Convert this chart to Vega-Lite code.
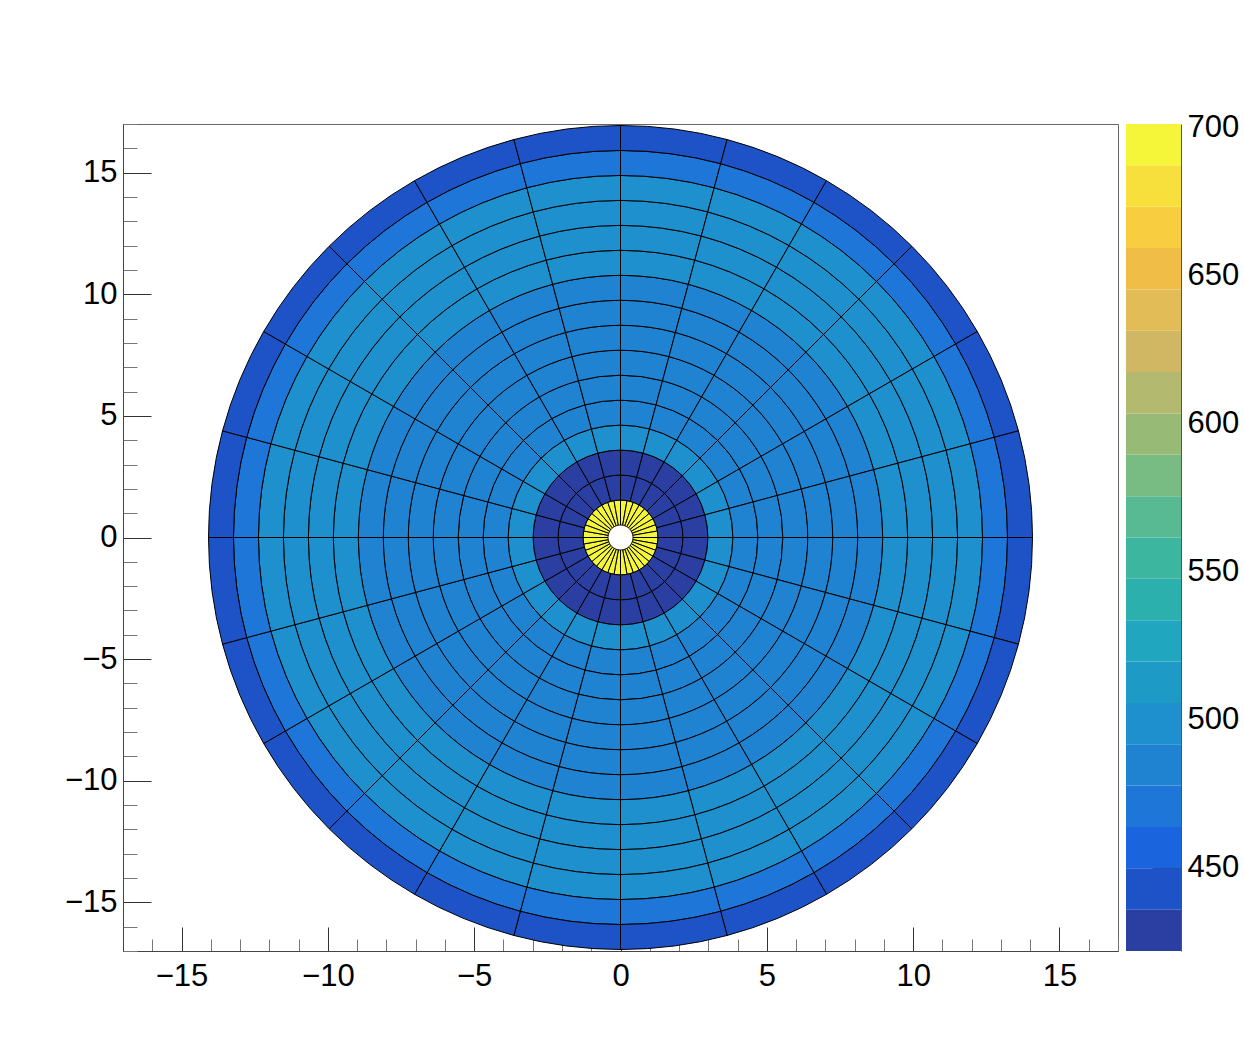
{
"$schema":"https://vega.github.io/schema/vega-lite/v6.json",
"background":"white",
"padding":{"left":63,"top":107,"right":0,"bottom":0},
"spacing":7,
"config":{"view":{"stroke":"#666","strokeWidth":1},"font":"Liberation Sans","axis":{"labelFont":"Liberation Sans","labelColor":"black","grid":false,"title":null}},
"datasets":{
"cells":[
{"r0":0.5,"r1":1.5,"p0":0,"p1":10,"v":695},{"r0":0.5,"r1":1.5,"p0":10,"p1":20,"v":695},{"r0":0.5,"r1":1.5,"p0":20,"p1":30,"v":695},{"r0":0.5,"r1":1.5,"p0":30,"p1":40,"v":695},{"r0":0.5,"r1":1.5,"p0":40,"p1":50,"v":695},{"r0":0.5,"r1":1.5,"p0":50,"p1":60,"v":695},{"r0":0.5,"r1":1.5,"p0":60,"p1":70,"v":695},{"r0":0.5,"r1":1.5,"p0":70,"p1":80,"v":695},{"r0":0.5,"r1":1.5,"p0":80,"p1":90,"v":695},{"r0":0.5,"r1":1.5,"p0":90,"p1":100,"v":695},{"r0":0.5,"r1":1.5,"p0":100,"p1":110,"v":695},{"r0":0.5,"r1":1.5,"p0":110,"p1":120,"v":695},{"r0":0.5,"r1":1.5,"p0":120,"p1":130,"v":695},{"r0":0.5,"r1":1.5,"p0":130,"p1":140,"v":695},{"r0":0.5,"r1":1.5,"p0":140,"p1":150,"v":695},{"r0":0.5,"r1":1.5,"p0":150,"p1":160,"v":695},{"r0":0.5,"r1":1.5,"p0":160,"p1":170,"v":695},{"r0":0.5,"r1":1.5,"p0":170,"p1":180,"v":695},{"r0":0.5,"r1":1.5,"p0":180,"p1":190,"v":695},{"r0":0.5,"r1":1.5,"p0":190,"p1":200,"v":695},{"r0":0.5,"r1":1.5,"p0":200,"p1":210,"v":695},{"r0":0.5,"r1":1.5,"p0":210,"p1":220,"v":695},{"r0":0.5,"r1":1.5,"p0":220,"p1":230,"v":695},{"r0":0.5,"r1":1.5,"p0":230,"p1":240,"v":695},{"r0":0.5,"r1":1.5,"p0":240,"p1":250,"v":695},{"r0":0.5,"r1":1.5,"p0":250,"p1":260,"v":695},{"r0":0.5,"r1":1.5,"p0":260,"p1":270,"v":695},{"r0":0.5,"r1":1.5,"p0":270,"p1":280,"v":695},{"r0":0.5,"r1":1.5,"p0":280,"p1":290,"v":695},{"r0":0.5,"r1":1.5,"p0":290,"p1":300,"v":695},{"r0":0.5,"r1":1.5,"p0":300,"p1":310,"v":695},{"r0":0.5,"r1":1.5,"p0":310,"p1":320,"v":695},{"r0":0.5,"r1":1.5,"p0":320,"p1":330,"v":695},{"r0":0.5,"r1":1.5,"p0":330,"p1":340,"v":695},{"r0":0.5,"r1":1.5,"p0":340,"p1":350,"v":695},{"r0":0.5,"r1":1.5,"p0":350,"p1":360,"v":695},
{"r0":1.5,"r1":2.5,"p0":0,"p1":15,"v":429},{"r0":1.5,"r1":2.5,"p0":15,"p1":30,"v":429},{"r0":1.5,"r1":2.5,"p0":30,"p1":45,"v":429},{"r0":1.5,"r1":2.5,"p0":45,"p1":60,"v":429},{"r0":1.5,"r1":2.5,"p0":60,"p1":75,"v":429},{"r0":1.5,"r1":2.5,"p0":75,"p1":90,"v":429},{"r0":1.5,"r1":2.5,"p0":90,"p1":105,"v":429},{"r0":1.5,"r1":2.5,"p0":105,"p1":120,"v":429},{"r0":1.5,"r1":2.5,"p0":120,"p1":135,"v":429},{"r0":1.5,"r1":2.5,"p0":135,"p1":150,"v":429},{"r0":1.5,"r1":2.5,"p0":150,"p1":165,"v":429},{"r0":1.5,"r1":2.5,"p0":165,"p1":180,"v":429},{"r0":1.5,"r1":2.5,"p0":180,"p1":195,"v":429},{"r0":1.5,"r1":2.5,"p0":195,"p1":210,"v":429},{"r0":1.5,"r1":2.5,"p0":210,"p1":225,"v":429},{"r0":1.5,"r1":2.5,"p0":225,"p1":240,"v":429},{"r0":1.5,"r1":2.5,"p0":240,"p1":255,"v":429},{"r0":1.5,"r1":2.5,"p0":255,"p1":270,"v":429},{"r0":1.5,"r1":2.5,"p0":270,"p1":285,"v":429},{"r0":1.5,"r1":2.5,"p0":285,"p1":300,"v":429},{"r0":1.5,"r1":2.5,"p0":300,"p1":315,"v":429},{"r0":1.5,"r1":2.5,"p0":315,"p1":330,"v":429},{"r0":1.5,"r1":2.5,"p0":330,"p1":345,"v":429},{"r0":1.5,"r1":2.5,"p0":345,"p1":360,"v":429},
{"r0":2.5,"r1":3.5,"p0":0,"p1":15,"v":429},{"r0":2.5,"r1":3.5,"p0":15,"p1":30,"v":429},{"r0":2.5,"r1":3.5,"p0":30,"p1":45,"v":429},{"r0":2.5,"r1":3.5,"p0":45,"p1":60,"v":429},{"r0":2.5,"r1":3.5,"p0":60,"p1":75,"v":429},{"r0":2.5,"r1":3.5,"p0":75,"p1":90,"v":429},{"r0":2.5,"r1":3.5,"p0":90,"p1":105,"v":429},{"r0":2.5,"r1":3.5,"p0":105,"p1":120,"v":429},{"r0":2.5,"r1":3.5,"p0":120,"p1":135,"v":429},{"r0":2.5,"r1":3.5,"p0":135,"p1":150,"v":429},{"r0":2.5,"r1":3.5,"p0":150,"p1":165,"v":429},{"r0":2.5,"r1":3.5,"p0":165,"p1":180,"v":429},{"r0":2.5,"r1":3.5,"p0":180,"p1":195,"v":429},{"r0":2.5,"r1":3.5,"p0":195,"p1":210,"v":429},{"r0":2.5,"r1":3.5,"p0":210,"p1":225,"v":429},{"r0":2.5,"r1":3.5,"p0":225,"p1":240,"v":429},{"r0":2.5,"r1":3.5,"p0":240,"p1":255,"v":429},{"r0":2.5,"r1":3.5,"p0":255,"p1":270,"v":429},{"r0":2.5,"r1":3.5,"p0":270,"p1":285,"v":429},{"r0":2.5,"r1":3.5,"p0":285,"p1":300,"v":429},{"r0":2.5,"r1":3.5,"p0":300,"p1":315,"v":429},{"r0":2.5,"r1":3.5,"p0":315,"p1":330,"v":429},{"r0":2.5,"r1":3.5,"p0":330,"p1":345,"v":429},{"r0":2.5,"r1":3.5,"p0":345,"p1":360,"v":429},
{"r0":3.5,"r1":4.5,"p0":0,"p1":15,"v":499},{"r0":3.5,"r1":4.5,"p0":15,"p1":30,"v":499},{"r0":3.5,"r1":4.5,"p0":30,"p1":45,"v":499},{"r0":3.5,"r1":4.5,"p0":45,"p1":60,"v":499},{"r0":3.5,"r1":4.5,"p0":60,"p1":75,"v":499},{"r0":3.5,"r1":4.5,"p0":75,"p1":90,"v":499},{"r0":3.5,"r1":4.5,"p0":90,"p1":105,"v":499},{"r0":3.5,"r1":4.5,"p0":105,"p1":120,"v":499},{"r0":3.5,"r1":4.5,"p0":120,"p1":135,"v":499},{"r0":3.5,"r1":4.5,"p0":135,"p1":150,"v":499},{"r0":3.5,"r1":4.5,"p0":150,"p1":165,"v":499},{"r0":3.5,"r1":4.5,"p0":165,"p1":180,"v":499},{"r0":3.5,"r1":4.5,"p0":180,"p1":195,"v":499},{"r0":3.5,"r1":4.5,"p0":195,"p1":210,"v":499},{"r0":3.5,"r1":4.5,"p0":210,"p1":225,"v":499},{"r0":3.5,"r1":4.5,"p0":225,"p1":240,"v":499},{"r0":3.5,"r1":4.5,"p0":240,"p1":255,"v":499},{"r0":3.5,"r1":4.5,"p0":255,"p1":270,"v":499},{"r0":3.5,"r1":4.5,"p0":270,"p1":285,"v":499},{"r0":3.5,"r1":4.5,"p0":285,"p1":300,"v":499},{"r0":3.5,"r1":4.5,"p0":300,"p1":315,"v":499},{"r0":3.5,"r1":4.5,"p0":315,"p1":330,"v":499},{"r0":3.5,"r1":4.5,"p0":330,"p1":345,"v":499},{"r0":3.5,"r1":4.5,"p0":345,"p1":360,"v":499},
{"r0":4.5,"r1":5.5,"p0":0,"p1":15,"v":485},{"r0":4.5,"r1":5.5,"p0":15,"p1":30,"v":485},{"r0":4.5,"r1":5.5,"p0":30,"p1":45,"v":485},{"r0":4.5,"r1":5.5,"p0":45,"p1":60,"v":485},{"r0":4.5,"r1":5.5,"p0":60,"p1":75,"v":485},{"r0":4.5,"r1":5.5,"p0":75,"p1":90,"v":485},{"r0":4.5,"r1":5.5,"p0":90,"p1":105,"v":485},{"r0":4.5,"r1":5.5,"p0":105,"p1":120,"v":485},{"r0":4.5,"r1":5.5,"p0":120,"p1":135,"v":485},{"r0":4.5,"r1":5.5,"p0":135,"p1":150,"v":485},{"r0":4.5,"r1":5.5,"p0":150,"p1":165,"v":485},{"r0":4.5,"r1":5.5,"p0":165,"p1":180,"v":485},{"r0":4.5,"r1":5.5,"p0":180,"p1":195,"v":485},{"r0":4.5,"r1":5.5,"p0":195,"p1":210,"v":485},{"r0":4.5,"r1":5.5,"p0":210,"p1":225,"v":485},{"r0":4.5,"r1":5.5,"p0":225,"p1":240,"v":485},{"r0":4.5,"r1":5.5,"p0":240,"p1":255,"v":485},{"r0":4.5,"r1":5.5,"p0":255,"p1":270,"v":485},{"r0":4.5,"r1":5.5,"p0":270,"p1":285,"v":485},{"r0":4.5,"r1":5.5,"p0":285,"p1":300,"v":485},{"r0":4.5,"r1":5.5,"p0":300,"p1":315,"v":485},{"r0":4.5,"r1":5.5,"p0":315,"p1":330,"v":485},{"r0":4.5,"r1":5.5,"p0":330,"p1":345,"v":485},{"r0":4.5,"r1":5.5,"p0":345,"p1":360,"v":485},
{"r0":5.5,"r1":6.5,"p0":0,"p1":15,"v":485},{"r0":5.5,"r1":6.5,"p0":15,"p1":30,"v":485},{"r0":5.5,"r1":6.5,"p0":30,"p1":45,"v":485},{"r0":5.5,"r1":6.5,"p0":45,"p1":60,"v":485},{"r0":5.5,"r1":6.5,"p0":60,"p1":75,"v":485},{"r0":5.5,"r1":6.5,"p0":75,"p1":90,"v":485},{"r0":5.5,"r1":6.5,"p0":90,"p1":105,"v":485},{"r0":5.5,"r1":6.5,"p0":105,"p1":120,"v":485},{"r0":5.5,"r1":6.5,"p0":120,"p1":135,"v":485},{"r0":5.5,"r1":6.5,"p0":135,"p1":150,"v":485},{"r0":5.5,"r1":6.5,"p0":150,"p1":165,"v":485},{"r0":5.5,"r1":6.5,"p0":165,"p1":180,"v":485},{"r0":5.5,"r1":6.5,"p0":180,"p1":195,"v":485},{"r0":5.5,"r1":6.5,"p0":195,"p1":210,"v":485},{"r0":5.5,"r1":6.5,"p0":210,"p1":225,"v":485},{"r0":5.5,"r1":6.5,"p0":225,"p1":240,"v":485},{"r0":5.5,"r1":6.5,"p0":240,"p1":255,"v":485},{"r0":5.5,"r1":6.5,"p0":255,"p1":270,"v":485},{"r0":5.5,"r1":6.5,"p0":270,"p1":285,"v":485},{"r0":5.5,"r1":6.5,"p0":285,"p1":300,"v":485},{"r0":5.5,"r1":6.5,"p0":300,"p1":315,"v":485},{"r0":5.5,"r1":6.5,"p0":315,"p1":330,"v":485},{"r0":5.5,"r1":6.5,"p0":330,"p1":345,"v":485},{"r0":5.5,"r1":6.5,"p0":345,"p1":360,"v":485},
{"r0":6.5,"r1":7.5,"p0":0,"p1":15,"v":485},{"r0":6.5,"r1":7.5,"p0":15,"p1":30,"v":485},{"r0":6.5,"r1":7.5,"p0":30,"p1":45,"v":485},{"r0":6.5,"r1":7.5,"p0":45,"p1":60,"v":485},{"r0":6.5,"r1":7.5,"p0":60,"p1":75,"v":485},{"r0":6.5,"r1":7.5,"p0":75,"p1":90,"v":485},{"r0":6.5,"r1":7.5,"p0":90,"p1":105,"v":485},{"r0":6.5,"r1":7.5,"p0":105,"p1":120,"v":485},{"r0":6.5,"r1":7.5,"p0":120,"p1":135,"v":485},{"r0":6.5,"r1":7.5,"p0":135,"p1":150,"v":485},{"r0":6.5,"r1":7.5,"p0":150,"p1":165,"v":485},{"r0":6.5,"r1":7.5,"p0":165,"p1":180,"v":485},{"r0":6.5,"r1":7.5,"p0":180,"p1":195,"v":485},{"r0":6.5,"r1":7.5,"p0":195,"p1":210,"v":485},{"r0":6.5,"r1":7.5,"p0":210,"p1":225,"v":485},{"r0":6.5,"r1":7.5,"p0":225,"p1":240,"v":485},{"r0":6.5,"r1":7.5,"p0":240,"p1":255,"v":485},{"r0":6.5,"r1":7.5,"p0":255,"p1":270,"v":485},{"r0":6.5,"r1":7.5,"p0":270,"p1":285,"v":485},{"r0":6.5,"r1":7.5,"p0":285,"p1":300,"v":485},{"r0":6.5,"r1":7.5,"p0":300,"p1":315,"v":485},{"r0":6.5,"r1":7.5,"p0":315,"p1":330,"v":485},{"r0":6.5,"r1":7.5,"p0":330,"p1":345,"v":485},{"r0":6.5,"r1":7.5,"p0":345,"p1":360,"v":485},
{"r0":7.5,"r1":8.5,"p0":0,"p1":15,"v":485},{"r0":7.5,"r1":8.5,"p0":15,"p1":30,"v":485},{"r0":7.5,"r1":8.5,"p0":30,"p1":45,"v":485},{"r0":7.5,"r1":8.5,"p0":45,"p1":60,"v":485},{"r0":7.5,"r1":8.5,"p0":60,"p1":75,"v":485},{"r0":7.5,"r1":8.5,"p0":75,"p1":90,"v":485},{"r0":7.5,"r1":8.5,"p0":90,"p1":105,"v":485},{"r0":7.5,"r1":8.5,"p0":105,"p1":120,"v":485},{"r0":7.5,"r1":8.5,"p0":120,"p1":135,"v":485},{"r0":7.5,"r1":8.5,"p0":135,"p1":150,"v":485},{"r0":7.5,"r1":8.5,"p0":150,"p1":165,"v":485},{"r0":7.5,"r1":8.5,"p0":165,"p1":180,"v":485},{"r0":7.5,"r1":8.5,"p0":180,"p1":195,"v":485},{"r0":7.5,"r1":8.5,"p0":195,"p1":210,"v":485},{"r0":7.5,"r1":8.5,"p0":210,"p1":225,"v":485},{"r0":7.5,"r1":8.5,"p0":225,"p1":240,"v":485},{"r0":7.5,"r1":8.5,"p0":240,"p1":255,"v":485},{"r0":7.5,"r1":8.5,"p0":255,"p1":270,"v":485},{"r0":7.5,"r1":8.5,"p0":270,"p1":285,"v":485},{"r0":7.5,"r1":8.5,"p0":285,"p1":300,"v":485},{"r0":7.5,"r1":8.5,"p0":300,"p1":315,"v":485},{"r0":7.5,"r1":8.5,"p0":315,"p1":330,"v":485},{"r0":7.5,"r1":8.5,"p0":330,"p1":345,"v":485},{"r0":7.5,"r1":8.5,"p0":345,"p1":360,"v":485},
{"r0":8.5,"r1":9.5,"p0":0,"p1":15,"v":485},{"r0":8.5,"r1":9.5,"p0":15,"p1":30,"v":485},{"r0":8.5,"r1":9.5,"p0":30,"p1":45,"v":485},{"r0":8.5,"r1":9.5,"p0":45,"p1":60,"v":485},{"r0":8.5,"r1":9.5,"p0":60,"p1":75,"v":485},{"r0":8.5,"r1":9.5,"p0":75,"p1":90,"v":485},{"r0":8.5,"r1":9.5,"p0":90,"p1":105,"v":485},{"r0":8.5,"r1":9.5,"p0":105,"p1":120,"v":485},{"r0":8.5,"r1":9.5,"p0":120,"p1":135,"v":485},{"r0":8.5,"r1":9.5,"p0":135,"p1":150,"v":485},{"r0":8.5,"r1":9.5,"p0":150,"p1":165,"v":485},{"r0":8.5,"r1":9.5,"p0":165,"p1":180,"v":485},{"r0":8.5,"r1":9.5,"p0":180,"p1":195,"v":485},{"r0":8.5,"r1":9.5,"p0":195,"p1":210,"v":485},{"r0":8.5,"r1":9.5,"p0":210,"p1":225,"v":485},{"r0":8.5,"r1":9.5,"p0":225,"p1":240,"v":485},{"r0":8.5,"r1":9.5,"p0":240,"p1":255,"v":485},{"r0":8.5,"r1":9.5,"p0":255,"p1":270,"v":485},{"r0":8.5,"r1":9.5,"p0":270,"p1":285,"v":485},{"r0":8.5,"r1":9.5,"p0":285,"p1":300,"v":485},{"r0":8.5,"r1":9.5,"p0":300,"p1":315,"v":485},{"r0":8.5,"r1":9.5,"p0":315,"p1":330,"v":485},{"r0":8.5,"r1":9.5,"p0":330,"p1":345,"v":485},{"r0":8.5,"r1":9.5,"p0":345,"p1":360,"v":485},
{"r0":9.5,"r1":10.5,"p0":0,"p1":15,"v":486},{"r0":9.5,"r1":10.5,"p0":15,"p1":30,"v":486},{"r0":9.5,"r1":10.5,"p0":30,"p1":45,"v":486},{"r0":9.5,"r1":10.5,"p0":45,"p1":60,"v":486},{"r0":9.5,"r1":10.5,"p0":60,"p1":75,"v":486},{"r0":9.5,"r1":10.5,"p0":75,"p1":90,"v":486},{"r0":9.5,"r1":10.5,"p0":90,"p1":105,"v":486},{"r0":9.5,"r1":10.5,"p0":105,"p1":120,"v":486},{"r0":9.5,"r1":10.5,"p0":120,"p1":135,"v":486},{"r0":9.5,"r1":10.5,"p0":135,"p1":150,"v":486},{"r0":9.5,"r1":10.5,"p0":150,"p1":165,"v":486},{"r0":9.5,"r1":10.5,"p0":165,"p1":180,"v":486},{"r0":9.5,"r1":10.5,"p0":180,"p1":195,"v":486},{"r0":9.5,"r1":10.5,"p0":195,"p1":210,"v":486},{"r0":9.5,"r1":10.5,"p0":210,"p1":225,"v":486},{"r0":9.5,"r1":10.5,"p0":225,"p1":240,"v":486},{"r0":9.5,"r1":10.5,"p0":240,"p1":255,"v":486},{"r0":9.5,"r1":10.5,"p0":255,"p1":270,"v":486},{"r0":9.5,"r1":10.5,"p0":270,"p1":285,"v":486},{"r0":9.5,"r1":10.5,"p0":285,"p1":300,"v":486},{"r0":9.5,"r1":10.5,"p0":300,"p1":315,"v":486},{"r0":9.5,"r1":10.5,"p0":315,"p1":330,"v":486},{"r0":9.5,"r1":10.5,"p0":330,"p1":345,"v":486},{"r0":9.5,"r1":10.5,"p0":345,"p1":360,"v":486},
{"r0":10.5,"r1":11.5,"p0":0,"p1":15,"v":497},{"r0":10.5,"r1":11.5,"p0":15,"p1":30,"v":497},{"r0":10.5,"r1":11.5,"p0":30,"p1":45,"v":497},{"r0":10.5,"r1":11.5,"p0":45,"p1":60,"v":497},{"r0":10.5,"r1":11.5,"p0":60,"p1":75,"v":497},{"r0":10.5,"r1":11.5,"p0":75,"p1":90,"v":497},{"r0":10.5,"r1":11.5,"p0":90,"p1":105,"v":497},{"r0":10.5,"r1":11.5,"p0":105,"p1":120,"v":497},{"r0":10.5,"r1":11.5,"p0":120,"p1":135,"v":497},{"r0":10.5,"r1":11.5,"p0":135,"p1":150,"v":497},{"r0":10.5,"r1":11.5,"p0":150,"p1":165,"v":497},{"r0":10.5,"r1":11.5,"p0":165,"p1":180,"v":497},{"r0":10.5,"r1":11.5,"p0":180,"p1":195,"v":497},{"r0":10.5,"r1":11.5,"p0":195,"p1":210,"v":497},{"r0":10.5,"r1":11.5,"p0":210,"p1":225,"v":497},{"r0":10.5,"r1":11.5,"p0":225,"p1":240,"v":497},{"r0":10.5,"r1":11.5,"p0":240,"p1":255,"v":497},{"r0":10.5,"r1":11.5,"p0":255,"p1":270,"v":497},{"r0":10.5,"r1":11.5,"p0":270,"p1":285,"v":497},{"r0":10.5,"r1":11.5,"p0":285,"p1":300,"v":497},{"r0":10.5,"r1":11.5,"p0":300,"p1":315,"v":497},{"r0":10.5,"r1":11.5,"p0":315,"p1":330,"v":497},{"r0":10.5,"r1":11.5,"p0":330,"p1":345,"v":497},{"r0":10.5,"r1":11.5,"p0":345,"p1":360,"v":497},
{"r0":11.5,"r1":12.5,"p0":0,"p1":15,"v":498},{"r0":11.5,"r1":12.5,"p0":15,"p1":30,"v":498},{"r0":11.5,"r1":12.5,"p0":30,"p1":45,"v":498},{"r0":11.5,"r1":12.5,"p0":45,"p1":60,"v":498},{"r0":11.5,"r1":12.5,"p0":60,"p1":75,"v":498},{"r0":11.5,"r1":12.5,"p0":75,"p1":90,"v":498},{"r0":11.5,"r1":12.5,"p0":90,"p1":105,"v":498},{"r0":11.5,"r1":12.5,"p0":105,"p1":120,"v":498},{"r0":11.5,"r1":12.5,"p0":120,"p1":135,"v":498},{"r0":11.5,"r1":12.5,"p0":135,"p1":150,"v":498},{"r0":11.5,"r1":12.5,"p0":150,"p1":165,"v":498},{"r0":11.5,"r1":12.5,"p0":165,"p1":180,"v":498},{"r0":11.5,"r1":12.5,"p0":180,"p1":195,"v":498},{"r0":11.5,"r1":12.5,"p0":195,"p1":210,"v":498},{"r0":11.5,"r1":12.5,"p0":210,"p1":225,"v":498},{"r0":11.5,"r1":12.5,"p0":225,"p1":240,"v":498},{"r0":11.5,"r1":12.5,"p0":240,"p1":255,"v":498},{"r0":11.5,"r1":12.5,"p0":255,"p1":270,"v":498},{"r0":11.5,"r1":12.5,"p0":270,"p1":285,"v":498},{"r0":11.5,"r1":12.5,"p0":285,"p1":300,"v":498},{"r0":11.5,"r1":12.5,"p0":300,"p1":315,"v":498},{"r0":11.5,"r1":12.5,"p0":315,"p1":330,"v":498},{"r0":11.5,"r1":12.5,"p0":330,"p1":345,"v":498},{"r0":11.5,"r1":12.5,"p0":345,"p1":360,"v":498},
{"r0":12.5,"r1":13.5,"p0":0,"p1":15,"v":498},{"r0":12.5,"r1":13.5,"p0":15,"p1":30,"v":498},{"r0":12.5,"r1":13.5,"p0":30,"p1":45,"v":498},{"r0":12.5,"r1":13.5,"p0":45,"p1":60,"v":498},{"r0":12.5,"r1":13.5,"p0":60,"p1":75,"v":498},{"r0":12.5,"r1":13.5,"p0":75,"p1":90,"v":498},{"r0":12.5,"r1":13.5,"p0":90,"p1":105,"v":498},{"r0":12.5,"r1":13.5,"p0":105,"p1":120,"v":498},{"r0":12.5,"r1":13.5,"p0":120,"p1":135,"v":498},{"r0":12.5,"r1":13.5,"p0":135,"p1":150,"v":498},{"r0":12.5,"r1":13.5,"p0":150,"p1":165,"v":498},{"r0":12.5,"r1":13.5,"p0":165,"p1":180,"v":498},{"r0":12.5,"r1":13.5,"p0":180,"p1":195,"v":498},{"r0":12.5,"r1":13.5,"p0":195,"p1":210,"v":498},{"r0":12.5,"r1":13.5,"p0":210,"p1":225,"v":498},{"r0":12.5,"r1":13.5,"p0":225,"p1":240,"v":498},{"r0":12.5,"r1":13.5,"p0":240,"p1":255,"v":498},{"r0":12.5,"r1":13.5,"p0":255,"p1":270,"v":498},{"r0":12.5,"r1":13.5,"p0":270,"p1":285,"v":498},{"r0":12.5,"r1":13.5,"p0":285,"p1":300,"v":498},{"r0":12.5,"r1":13.5,"p0":300,"p1":315,"v":498},{"r0":12.5,"r1":13.5,"p0":315,"p1":330,"v":498},{"r0":12.5,"r1":13.5,"p0":330,"p1":345,"v":498},{"r0":12.5,"r1":13.5,"p0":345,"p1":360,"v":498},
{"r0":13.5,"r1":14.5,"p0":0,"p1":15,"v":497},{"r0":13.5,"r1":14.5,"p0":15,"p1":30,"v":497},{"r0":13.5,"r1":14.5,"p0":30,"p1":45,"v":497},{"r0":13.5,"r1":14.5,"p0":45,"p1":60,"v":497},{"r0":13.5,"r1":14.5,"p0":60,"p1":75,"v":497},{"r0":13.5,"r1":14.5,"p0":75,"p1":90,"v":497},{"r0":13.5,"r1":14.5,"p0":90,"p1":105,"v":497},{"r0":13.5,"r1":14.5,"p0":105,"p1":120,"v":497},{"r0":13.5,"r1":14.5,"p0":120,"p1":135,"v":497},{"r0":13.5,"r1":14.5,"p0":135,"p1":150,"v":497},{"r0":13.5,"r1":14.5,"p0":150,"p1":165,"v":497},{"r0":13.5,"r1":14.5,"p0":165,"p1":180,"v":497},{"r0":13.5,"r1":14.5,"p0":180,"p1":195,"v":497},{"r0":13.5,"r1":14.5,"p0":195,"p1":210,"v":497},{"r0":13.5,"r1":14.5,"p0":210,"p1":225,"v":497},{"r0":13.5,"r1":14.5,"p0":225,"p1":240,"v":497},{"r0":13.5,"r1":14.5,"p0":240,"p1":255,"v":497},{"r0":13.5,"r1":14.5,"p0":255,"p1":270,"v":497},{"r0":13.5,"r1":14.5,"p0":270,"p1":285,"v":497},{"r0":13.5,"r1":14.5,"p0":285,"p1":300,"v":497},{"r0":13.5,"r1":14.5,"p0":300,"p1":315,"v":497},{"r0":13.5,"r1":14.5,"p0":315,"p1":330,"v":497},{"r0":13.5,"r1":14.5,"p0":330,"p1":345,"v":497},{"r0":13.5,"r1":14.5,"p0":345,"p1":360,"v":497},
{"r0":14.5,"r1":15.5,"p0":0,"p1":15,"v":471},{"r0":14.5,"r1":15.5,"p0":15,"p1":30,"v":471},{"r0":14.5,"r1":15.5,"p0":30,"p1":45,"v":471},{"r0":14.5,"r1":15.5,"p0":45,"p1":60,"v":471},{"r0":14.5,"r1":15.5,"p0":60,"p1":75,"v":471},{"r0":14.5,"r1":15.5,"p0":75,"p1":90,"v":471},{"r0":14.5,"r1":15.5,"p0":90,"p1":105,"v":471},{"r0":14.5,"r1":15.5,"p0":105,"p1":120,"v":471},{"r0":14.5,"r1":15.5,"p0":120,"p1":135,"v":471},{"r0":14.5,"r1":15.5,"p0":135,"p1":150,"v":471},{"r0":14.5,"r1":15.5,"p0":150,"p1":165,"v":471},{"r0":14.5,"r1":15.5,"p0":165,"p1":180,"v":471},{"r0":14.5,"r1":15.5,"p0":180,"p1":195,"v":471},{"r0":14.5,"r1":15.5,"p0":195,"p1":210,"v":471},{"r0":14.5,"r1":15.5,"p0":210,"p1":225,"v":471},{"r0":14.5,"r1":15.5,"p0":225,"p1":240,"v":471},{"r0":14.5,"r1":15.5,"p0":240,"p1":255,"v":471},{"r0":14.5,"r1":15.5,"p0":255,"p1":270,"v":471},{"r0":14.5,"r1":15.5,"p0":270,"p1":285,"v":471},{"r0":14.5,"r1":15.5,"p0":285,"p1":300,"v":471},{"r0":14.5,"r1":15.5,"p0":300,"p1":315,"v":471},{"r0":14.5,"r1":15.5,"p0":315,"p1":330,"v":471},{"r0":14.5,"r1":15.5,"p0":330,"p1":345,"v":471},{"r0":14.5,"r1":15.5,"p0":345,"p1":360,"v":471},
{"r0":15.5,"r1":16.5,"p0":0,"p1":15,"v":443},{"r0":15.5,"r1":16.5,"p0":15,"p1":30,"v":443},{"r0":15.5,"r1":16.5,"p0":30,"p1":45,"v":443},{"r0":15.5,"r1":16.5,"p0":45,"p1":60,"v":443},{"r0":15.5,"r1":16.5,"p0":60,"p1":75,"v":443},{"r0":15.5,"r1":16.5,"p0":75,"p1":90,"v":443},{"r0":15.5,"r1":16.5,"p0":90,"p1":105,"v":443},{"r0":15.5,"r1":16.5,"p0":105,"p1":120,"v":443},{"r0":15.5,"r1":16.5,"p0":120,"p1":135,"v":443},{"r0":15.5,"r1":16.5,"p0":135,"p1":150,"v":443},{"r0":15.5,"r1":16.5,"p0":150,"p1":165,"v":443},{"r0":15.5,"r1":16.5,"p0":165,"p1":180,"v":443},{"r0":15.5,"r1":16.5,"p0":180,"p1":195,"v":443},{"r0":15.5,"r1":16.5,"p0":195,"p1":210,"v":443},{"r0":15.5,"r1":16.5,"p0":210,"p1":225,"v":443},{"r0":15.5,"r1":16.5,"p0":225,"p1":240,"v":443},{"r0":15.5,"r1":16.5,"p0":240,"p1":255,"v":443},{"r0":15.5,"r1":16.5,"p0":255,"p1":270,"v":443},{"r0":15.5,"r1":16.5,"p0":270,"p1":285,"v":443},{"r0":15.5,"r1":16.5,"p0":285,"p1":300,"v":443},{"r0":15.5,"r1":16.5,"p0":300,"p1":315,"v":443},{"r0":15.5,"r1":16.5,"p0":315,"p1":330,"v":443},{"r0":15.5,"r1":16.5,"p0":330,"p1":345,"v":443},{"r0":15.5,"r1":16.5,"p0":345,"p1":360,"v":443}
],
"bands":[
{"lo":421.8,"hi":435.77,"v":428.8},{"lo":435.77,"hi":449.73,"v":442.75},{"lo":449.73,"hi":463.7,"v":456.7},{"lo":463.7,"hi":477.66,"v":470.7},{"lo":477.66,"hi":491.63,"v":484.6},{"lo":491.63,"hi":505.59,"v":498.6},{"lo":505.59,"hi":519.56,"v":512.6},{"lo":519.56,"hi":533.52,"v":526.5},{"lo":533.52,"hi":547.49,"v":540.5},{"lo":547.49,"hi":561.45,"v":554.5},{"lo":561.45,"hi":575.42,"v":568.4},{"lo":575.42,"hi":589.38,"v":582.4},{"lo":589.38,"hi":603.35,"v":596.4},{"lo":603.35,"hi":617.31,"v":610.3},{"lo":617.31,"hi":631.28,"v":624.3},{"lo":631.28,"hi":645.24,"v":638.3},{"lo":645.24,"hi":659.21,"v":652.2},{"lo":659.21,"hi":673.17,"v":666.2},{"lo":673.17,"hi":687.14,"v":680.2},{"lo":687.14,"hi":701.1,"v":694.1}
]
},
"hconcat":[
{
"width":995,"height":827,
"data":{"name":"cells"},
"mark":{"type":"arc","stroke":"black","strokeWidth":1},
"encoding":{
"x":{"datum":0,"type":"quantitative","scale":{"domain":[-17,17],"nice":false,"zero":false},
"axis":{"values":[-17,-16,-15,-14,-13,-12,-11,-10,-9,-8,-7,-6,-5,-4,-3,-2,-1,0,1,2,3,4,5,6,7,8,9,10,11,12,13,14,15,16,17],
"labelExpr":"datum.value % 5 === 0 ? datum.label : ''",
"tickSize":{"condition":{"test":"datum.value % 5 === 0","value":-24},"value":-12},
"tickColor":{"condition":{"test":"datum.value % 5 === 0","value":"#333"},"value":"#777"},
"labelPadding":34,"labelFontSize":31,"labelOverlap":false,"labelFlush":false,"labelBound":false,"domainColor":"#444","title":null}},
"y":{"datum":0,"type":"quantitative","scale":{"domain":[-17,17],"nice":false,"zero":false},
"axis":{"values":[-17,-16,-15,-14,-13,-12,-11,-10,-9,-8,-7,-6,-5,-4,-3,-2,-1,0,1,2,3,4,5,6,7,8,9,10,11,12,13,14,15,16,17],
"labelExpr":"datum.value % 5 === 0 ? datum.label : ''",
"tickSize":{"condition":{"test":"datum.value % 5 === 0","value":-28},"value":-14},
"tickColor":{"condition":{"test":"datum.value % 5 === 0","value":"#333"},"value":"#777"},
"labelPadding":34,"labelFontSize":31,"labelOverlap":false,"labelFlush":false,"labelBound":false,"domainColor":"#444","title":null}},
"theta":{"field":"p0","type":"quantitative","stack":null,"scale":{"type":"linear","domain":[0,360],"range":[0,6.283185307179586],"nice":false,"zero":true}},
"theta2":{"field":"p1"},
"radius":{"field":"r1","type":"quantitative","scale":{"type":"linear","domain":[0,16.5],"range":[0,412],"nice":false,"zero":true}},
"radius2":{"field":"r0"},
"color":{"field":"v","type":"quantitative","legend":null,
"scale":{"type":"threshold","domain":[435.77,449.73,463.7,477.66,491.63,505.59,519.56,533.52,547.49,561.45,575.42,589.38,603.35,617.31,631.28,645.24,659.21,673.17,687.14],
"range":["#2b3fa2","#1e53c7","#1a65de","#1e76d8","#1f83d2","#1d90cd","#1e9ac7","#21a6c0","#2bb0ae","#3db6a0","#57ba92","#78bc83","#97bb77","#b3b96e","#cfb763","#e2bc57","#f0be47","#f9cd40","#f8e03c","#f5f53a"]}}
}
},
{
"width":55,"height":827,
"view":{"stroke":null},
"data":{"name":"bands"},
"mark":{"type":"rect"},
"encoding":{
"y":{"field":"lo","type":"quantitative","scale":{"domain":[421.8,701.1],"nice":false,"zero":false},
"axis":{"orient":"right","values":[450,500,550,600,650,700],"tickSize":-29,"tickColor":"#333","labelPadding":35,"labelFontSize":31,"domainColor":"#555","title":null,"labelOverlap":false,"labelFlush":false,"labelBound":false}},
"y2":{"field":"hi"},
"color":{"field":"v","type":"quantitative","legend":null,
"scale":{"type":"threshold","domain":[435.77,449.73,463.7,477.66,491.63,505.59,519.56,533.52,547.49,561.45,575.42,589.38,603.35,617.31,631.28,645.24,659.21,673.17,687.14],
"range":["#2b3fa2","#1e53c7","#1a65de","#1e76d8","#1f83d2","#1d90cd","#1e9ac7","#21a6c0","#2bb0ae","#3db6a0","#57ba92","#78bc83","#97bb77","#b3b96e","#cfb763","#e2bc57","#f0be47","#f9cd40","#f8e03c","#f5f53a"]}}
}
}
]
}
